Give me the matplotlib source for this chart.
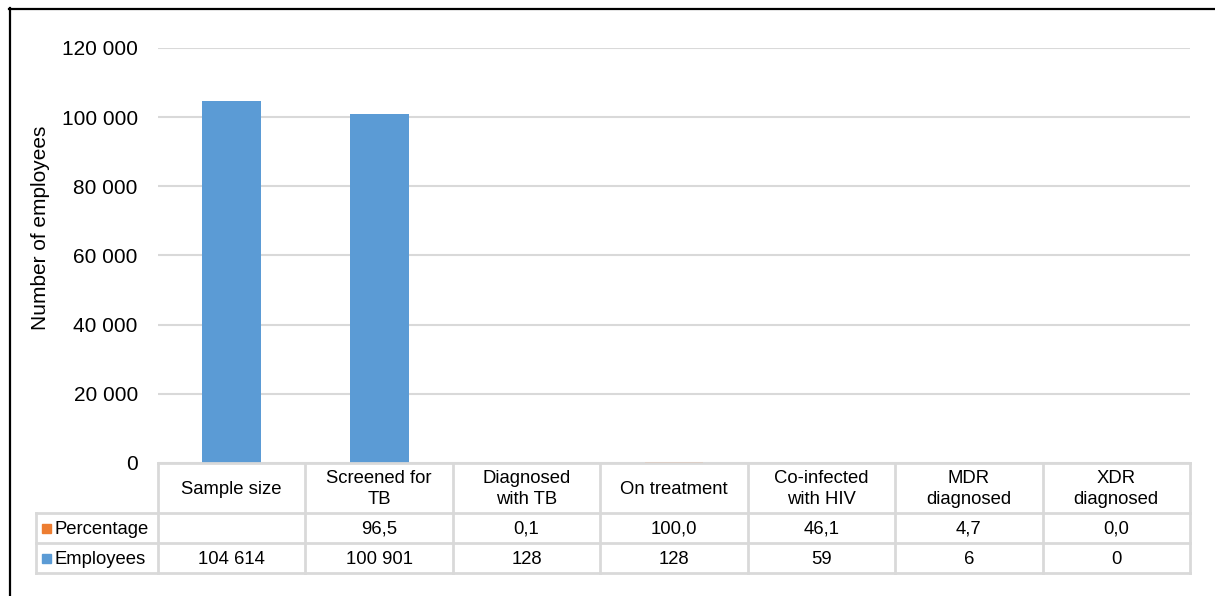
import matplotlib
matplotlib.use("Agg")
import matplotlib.pyplot as plt
from matplotlib.patches import Rectangle
from matplotlib.lines import Line2D
import numpy as np

plt.rcParams['font.family'] = ['Liberation Sans', 'DejaVu Sans']

categories = ["Sample size", "Screened for\nTB", "Diagnosed\nwith TB", "On treatment",
              "Co-infected\nwith HIV", "MDR\ndiagnosed", "XDR\ndiagnosed"]
employees = [104614, 100901, 128, 128, 59, 6, 0]
percentage = [None, 96.5, 0.1, 100.0, 46.1, 4.7, 0.0]
y_ticks = [0, 20000, 40000, 60000, 80000, 100000, 120000]

BLUE = "#5B9BD5"
ORANGE = "#ED7D31"
GRID = "#D9D9D9"

W, H = 1215, 596
fig = plt.figure(figsize=(W / 100, H / 100), dpi=100)

# pixel helpers for layout
def fx(px):
    return px / W

def fy(py):
    return 1 - py / H

left, right, top, bottom = 158, 1190, 48, 463
ax = fig.add_axes([fx(left), fy(bottom), fx(right) - fx(left), fy(top) - fy(bottom)])

n = len(categories)
x = np.arange(n) + 0.5
emp = np.array(employees, dtype=float)
pct = np.array([0 if p is None else p for p in percentage], dtype=float)
ax.bar(x, emp, width=0.4, color=BLUE, zorder=3)
ax.bar(x, pct, width=0.4, bottom=emp, color=ORANGE, zorder=3)

ax.set_xlim(0, n)
ax.set_ylim(0, 120000)
ax.set_yticks(y_ticks)
ax.set_yticklabels([f"{v:,}".replace(",", " ") for v in y_ticks], fontsize=15)
ax.tick_params(axis='y', length=0, pad=14.5)
ax.set_xticks([])
for s in ax.spines.values():
    s.set_visible(False)
ax.yaxis.grid(True, color=GRID, linewidth=1.5, zorder=0)
ax.set_axisbelow(True)
ax.set_ylabel("Number of employees", fontsize=15)
ax.yaxis.set_label_coords((50 - left) / (right - left), (bottom - 228) / (bottom - top))

# overlay in pixel coordinates for the data table and frame
ov = fig.add_axes([0, 0, 1, 1])
ov.set_xlim(0, W)
ov.set_ylim(H, 0)
ov.axis('off')
ov.patch.set_alpha(0)

# column boundaries from the bar axis scale
col_px = [ax.transData.transform((i, 0))[0] for i in range(n + 1)]
row_y = [463, 513, 543, 573]
label_left = 36
lw = 2.0

def hline(x0, x1, y):
    ov.add_line(Line2D([x0, x1], [y, y], color=GRID, lw=lw))

def vline(xp, y0, y1):
    ov.add_line(Line2D([xp, xp], [y0, y1], color=GRID, lw=lw))

hline(col_px[0], col_px[-1], row_y[0])
for yy in row_y[1:]:
    hline(label_left, col_px[-1], yy)
vline(label_left, row_y[1], row_y[3])
for xp in col_px:
    vline(xp, row_y[0], row_y[3])

fs_tab = 13.3
for i, cat in enumerate(categories):
    cx = (col_px[i] + col_px[i + 1]) / 2
    ov.text(cx, (row_y[0] + row_y[1]) / 2 + 1, cat, ha='center', va='center',
            fontsize=fs_tab, linespacing=1.3)
    p = percentage[i]
    if p is not None:
        ov.text(cx, (row_y[1] + row_y[2]) / 2 + 1, f"{p:.1f}".replace(".", ","),
                ha='center', va='center', fontsize=fs_tab)
    ov.text(cx, (row_y[2] + row_y[3]) / 2 + 1, f"{employees[i]:,}".replace(",", " "),
            ha='center', va='center', fontsize=fs_tab)

# row labels with legend keys
for (r0, r1), name, col in [((row_y[1], row_y[2]), "Percentage", ORANGE),
                            ((row_y[2], row_y[3]), "Employees", BLUE)]:
    cy = (r0 + r1) / 2
    ov.add_patch(Rectangle((42, cy - 4.5), 9, 9, color=col))
    ov.text(55, cy + 1, name, ha='left', va='center', fontsize=fs_tab)

# outer frame (top and left edges)
ov.add_line(Line2D([9, W], [8.5, 8.5], color='black', lw=1.6))
ov.add_line(Line2D([9.5, 9.5], [8, H], color='black', lw=1.6))

fig.savefig("out.png", dpi=100)
